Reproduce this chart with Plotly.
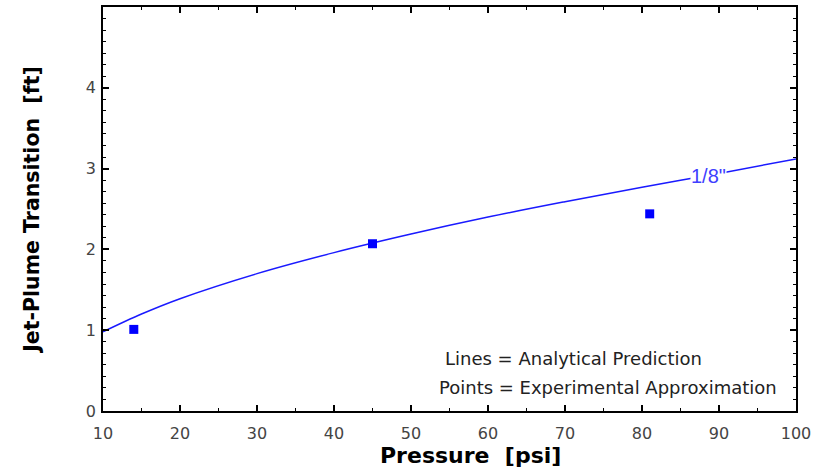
import plotly.graph_objects as go

# Analytical prediction curve
line_x = [10, 15, 20, 30, 40, 50, 60, 70, 80, 90, 100]
line_y = [0.98, 1.20, 1.39, 1.70, 1.96, 2.19, 2.40, 2.59, 2.77, 2.94, 3.12]

# Experimental approximation points
pts_x = [14, 45, 81]
pts_y = [1.01, 2.07, 2.44]

x_ticks = [10, 20, 30, 40, 50, 60, 70, 80, 90, 100]
y_ticks = [0, 1, 2, 3, 4]

fig = go.Figure()
fig.add_trace(go.Scatter(x=line_x, y=line_y, mode="lines",
                         line=dict(color="#1a1aff", width=1.5, shape="spline"),
                         showlegend=False, hoverinfo="skip"))
fig.add_trace(go.Scatter(x=pts_x, y=pts_y, mode="markers",
                         marker=dict(symbol="square", size=9, color="#0000ff"),
                         showlegend=False))

fig.add_annotation(x=88.6, y=2.91, text='1/8"', showarrow=False,
                   font=dict(family="Liberation Sans, Arial", size=20, color="#4040ff"),
                   bgcolor="white", borderpad=0)
fig.add_annotation(x=0.4906, xref="paper", y=0.131, yref="paper",
                   xanchor="left", yanchor="middle",
                   text="Lines = Analytical Prediction", showarrow=False,
                   font=dict(family="DejaVu Sans", size=18, color="#222222"))
fig.add_annotation(x=0.4820, xref="paper", y=0.057, yref="paper",
                   xanchor="left", yanchor="middle",
                   text="Points = Experimental Approximation", showarrow=False,
                   font=dict(family="DejaVu Sans", size=18, color="#222222"))
# x-axis title (offset right of centre as in the original)
fig.add_annotation(x=0.5296, xref="paper", y=-0.109, yref="paper",
                   xanchor="center", yanchor="middle",
                   text="<b>Pressure\u00a0\u00a0[psi]</b>", showarrow=False,
                   font=dict(family="DejaVu Sans", size=22, color="black"))

axis_common = dict(showgrid=False, zeroline=False, showline=True, linecolor="black",
                   linewidth=1.5, mirror="allticks", ticks="inside", ticklen=6,
                   tickcolor="black", tickwidth=1.5,
                   tickfont=dict(family="DejaVu Sans", size=16, color="#444444"))

fig.update_xaxes(range=[10, 100], tickvals=x_ticks, ticklabelstandoff=7,
                 minor=dict(dtick=5, tick0=10, ticks="inside", ticklen=3,
                            tickcolor="black", tickwidth=1.2, showgrid=False),
                 **axis_common)
fig.update_yaxes(range=[0, 5], tickvals=y_ticks, ticklabelstandoff=2,
                 minor=dict(dtick=1/7, tick0=0, ticks="inside", ticklen=3,
                            tickcolor="black", tickwidth=1.2, showgrid=False),
                 title=dict(text="<b>Jet-Plume Transition\u00a0\u00a0[ft]</b>", standoff=41,
                            font=dict(family="DejaVu Sans", size=20.5, color="black")),
                 **axis_common)

fig.update_layout(width=825, height=468, margin=dict(l=103, r=29, t=7, b=57, autoexpand=False),
                  plot_bgcolor="white", paper_bgcolor="white")

fig.write_html("out.html", config={"displayModeBar": False},
               post_script="document.body.style.margin='0';")
